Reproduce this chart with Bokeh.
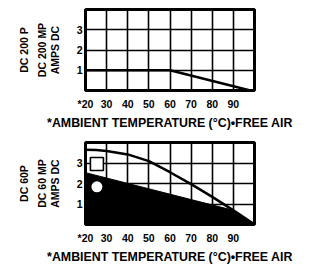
from bokeh.plotting import figure
from bokeh.layouts import column
from bokeh.models import Range1d, FixedTicker, LinearAxis
from bokeh.embed import file_html
from bokeh.resources import INLINE

# ---- data ----
x_ticks = [20, 30, 40, 50, 60, 70, 80, 90]
x_tick_labels = ["*20", "30", "40", "50", "60", "70", "80", "90"]
y_ticks = [1, 2, 3]
y_tick_labels = ["1", "2", "3"]

top_x = [20, 60, 98]
top_y = [1.0, 1.0, 0.0]

curve_x = [20, 25, 30, 40, 50, 60, 70, 80, 90, 100]
curve_y = [3.65, 3.63, 3.58, 3.42, 3.09, 2.55, 1.97, 1.35, 0.69, 0.0]

fill_x = [20, 90, 100, 20]
fill_y = [2.53, 0.69, 0.0, 0.0]

square_x = [25.4]
square_y = [2.95]
circle_x = [25.4]
circle_y = [1.84]

top_ylabels = ["AMPS DC", "DC 200 MP", "DC 200 P"]      # inner -> outer
bottom_ylabels = ["AMPS DC", "DC 60 MP", "DC 60P"]      # inner -> outer
x_title = "*AMBIENT TEMPERATURE (\u00b0C)\u2022FREE AIR"

FONT = "Liberation Sans"


def make_fig(height, b_top, b_bottom, b_left, frame_w, ylabels):
    width = 311
    p = figure(width=width, height=height, title=None,
               x_range=Range1d(20, 100), y_range=Range1d(0, 4),
               min_border_left=b_left, min_border_right=width - b_left - frame_w,
               min_border_top=b_top, min_border_bottom=b_bottom,
               output_backend="svg", toolbar_location=None)
    p.outline_line_color = "black"
    p.outline_line_width = 3
    p.outline_line_alpha = 1.0
    p.background_fill_color = "white"
    p.border_fill_color = "white"

    p.xaxis.ticker = FixedTicker(ticks=x_ticks)
    p.xaxis.major_label_overrides = {t: l for t, l in zip(x_ticks, x_tick_labels)}
    p.yaxis.ticker = FixedTicker(ticks=y_ticks)
    p.yaxis.major_label_overrides = {t: l for t, l in zip(y_ticks, y_tick_labels)}
    for ax in (p.xaxis, p.yaxis):
        ax.axis_line_color = None
        ax.major_tick_line_color = None
        ax.minor_tick_line_color = None
        ax.major_tick_out = 0
        ax.major_tick_in = 0
        ax.minor_tick_out = 0
        ax.major_label_text_font = FONT
        ax.major_label_text_font_style = "bold"
        ax.major_label_text_font_size = "10.5px"
        ax.major_label_text_color = "black"
    p.xaxis.major_label_standoff = 7
    p.yaxis.major_label_standoff = 3

    p.xaxis.axis_label = x_title
    p.xaxis.axis_label_text_font = FONT
    p.xaxis.axis_label_text_font_style = "bold"
    p.xaxis.axis_label_text_font_size = "12.4px"
    p.xaxis.axis_label_text_color = "black"
    p.xaxis.axis_label_standoff = 3

    p.grid.grid_line_color = "black"
    p.grid.grid_line_width = 1.6
    p.grid.grid_line_alpha = 1.0

    standoffs = [13, -2, 3]
    for txt, so in zip(ylabels, standoffs):
        ax = LinearAxis(ticker=FixedTicker(ticks=[]), axis_label=txt,
                        axis_label_standoff=so,
                        axis_label_text_font=FONT,
                        axis_label_text_font_style="bold",
                        axis_label_text_font_size="10.5px",
                        axis_label_text_color="black",
                        axis_line_color=None, major_tick_line_color=None,
                        minor_tick_line_color=None, major_tick_out=0,
                        major_tick_in=0, minor_tick_out=0,
                        major_label_standoff=0,
                        major_label_text_font_size="0px")
        p.add_layout(ax, "left")
    return p


top = make_fig(132, 9, 42, 85, 169, top_ylabels)
top.line(top_x, top_y, line_color="black", line_width=2.5)

bottom = make_fig(134, 10, 38, 84, 170, bottom_ylabels)
bottom.patch(fill_x, fill_y, fill_color="black", line_color="black", line_width=1)
bottom.line(curve_x, curve_y, line_color="black", line_width=2.5)
bottom.scatter(square_x, square_y, marker="square", size=13, fill_color="white",
               line_color="black", line_width=1.6)
bottom.scatter(circle_x, circle_y, marker="circle", size=11, fill_color="white",
               line_color=None)

layout = column(top, bottom, spacing=0)
open("out.html", "w").write(file_html(layout, INLINE))
